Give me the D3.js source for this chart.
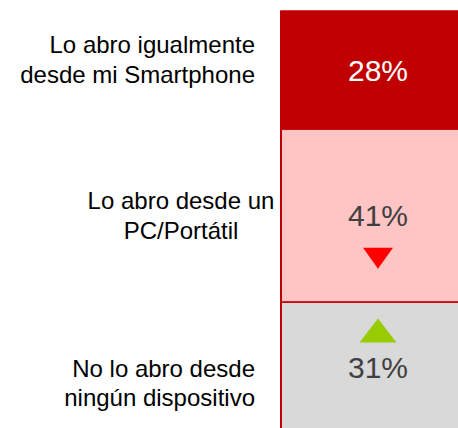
<!DOCTYPE html>
<html>
<head>
<meta charset="utf-8">
<script src="https://d3js.org/d3.v7.min.js"></script>
<style>
  html, body { margin: 0; padding: 0; background: #fff; }
  #graf { width: 458px; height: 428px; overflow: hidden; }
</style>
</head>
<body>
<div id="graf"></div>
<script>
// I. Datos
categorias = [
  ['Lo abro igualmente', 'desde mi Smartphone'],
  ['Lo abro desde un', 'PC/Portátil'],
  ['No lo abro desde', 'ningún dispositivo']
]
valores = [28, 41, 31]
etiquetas = ['28%', '41%', '31%']
tendencia = [null, 'baja', 'sube']

colores = ['#c00000', '#ffc5c5', '#d9d9d9']
colorTexto = ['#ffffff', '#404040', '#404040']

// II. Configuración
ancho_total = 458
alto_total = 428

svg = d3.select('#graf').append('svg')
        .attr('width', ancho_total)
        .attr('height', alto_total)

// escala vertical acumulada (0-100%)
y = d3.scaleLinear()
      .domain([0, 100])
      .range([11, 433])

x = d3.scaleBand()
      .domain(['total'])
      .range([281, 475])

acum = d3.cumsum(valores)
segs = valores.map((v, i) => ({
  v: v,
  y0: acum[i] - v,
  y1: acum[i],
  et: etiquetas[i],
  col: colores[i],
  txt: colorTexto[i],
  tend: tendencia[i],
  cat: categorias[i]
}))

// III. Barras
svg.selectAll('rect.seg')
   .data(segs)
   .enter()
   .append('rect')
   .attr('class', 'seg')
   .attr('x', x('total'))
   .attr('width', x.bandwidth())
   .attr('y', d => y(d.y0))
   .attr('height', d => y(d.y1) - y(d.y0))
   .style('fill', d => d.col)
   .style('stroke', '#c00000')
   .style('stroke-width', 1.5)

// línea izquierda
svg.append('line')
   .attr('x1', x('total')).attr('x2', x('total'))
   .attr('y1', y(0)).attr('y2', y(100))
   .style('stroke', '#c00000')
   .style('stroke-width', 2)

// IV. Porcentajes
svg.selectAll('text.pct')
   .data(segs)
   .enter()
   .append('text')
   .attr('class', 'pct')
   .attr('x', x('total') + x.bandwidth() / 2)
   .attr('y', d => (y(d.y0) + y(d.y1)) / 2 + 10.5)
   .attr('text-anchor', 'middle')
   .style('font-family', '"Liberation Sans", Arial, sans-serif')
   .style('font-size', '30px')
   .style('fill', d => d.txt)
   .text(d => d.et)

// flechas de tendencia
flecha = d3.symbol().type(d3.symbolTriangle)
svg.selectAll('path.tend')
   .data(segs.filter(d => d.tend))
   .enter()
   .append('path')
   .attr('class', 'tend')
   .attr('d', d => d.tend == 'baja' ? 'M-15,-10L15,-10L0,11Z' : 'M-18.5,12L18.5,12L0,-12Z')
   .attr('transform', d => {
     cy = (y(d.y0) + y(d.y1)) / 2
     return `translate(${ x('total') + x.bandwidth() / 2 }, ${ d.tend == 'baja' ? cy + 42 : cy - 37 })`
   })
   .style('fill', d => d.tend == 'baja' ? '#ff0000' : '#99cc00')

// V. Categorías
posEtiq = [
  { x: 255, anchor: 'end', dy: [-17, 13] },
  { x: 181, anchor: 'middle', dy: [-6.5, 23.5] },
  { x: 255, anchor: 'end', dy: [9.5, 38.5] }
]

segs.forEach((d, i) => {
  cy = (y(d.y0) + y(d.y1)) / 2
  t = svg.append('text')
         .attr('text-anchor', posEtiq[i].anchor)
         .style('font-family', '"Liberation Sans", Arial, sans-serif')
         .style('font-size', '24px')
         .style('fill', '#000')
  d.cat.forEach((linea, j) => {
    t.append('tspan')
     .attr('x', posEtiq[i].x)
     .attr('y', cy + posEtiq[i].dy[j])
     .text(linea)
  })
})
</script>
</body>
</html>
